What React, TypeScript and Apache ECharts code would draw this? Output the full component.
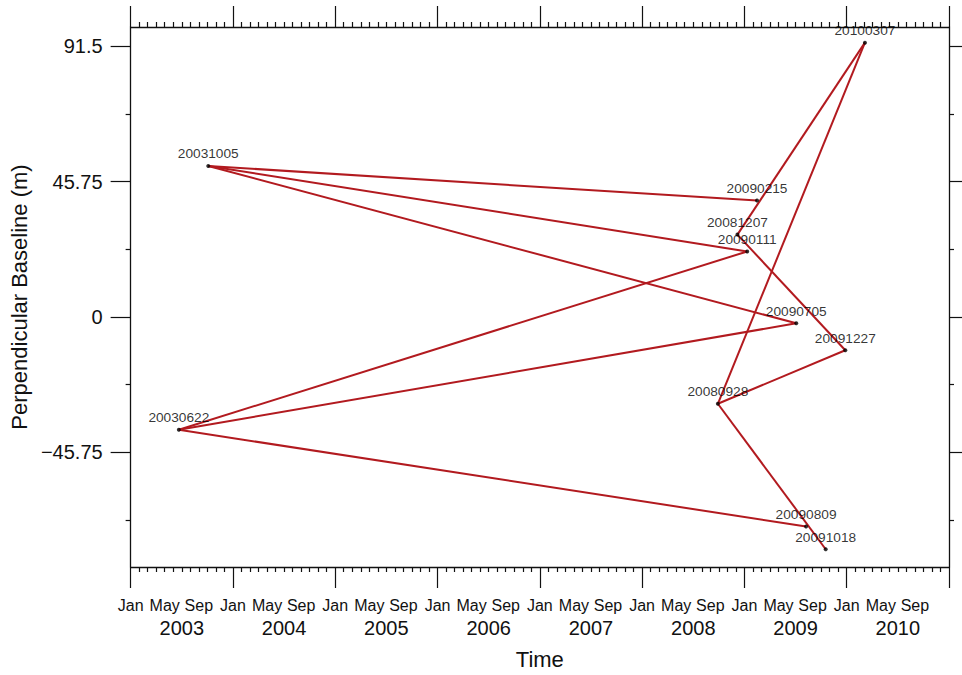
import React, { useEffect, useRef } from "react";
import * as echarts from "echarts";

// Acquisition dates (yyyymmdd) and perpendicular baselines (m)
const dates = ["20030622", "20031005", "20080928", "20081207", "20090111", "20090215", "20090705", "20090809", "20091018", "20091227", "20100307"];
const baselines = [-38.2, 51.0, -29.4, 27.8, 22.1, 39.3, -2.2, -70.9, -78.6, -11.3, 92.7];

// Interferometric pairs
const pairFrom = ["20030622", "20030622", "20030622", "20031005", "20031005", "20031005", "20081207", "20081207", "20080928", "20080928", "20080928"];
const pairTo = ["20090111", "20090705", "20090809", "20090215", "20090111", "20090705", "20100307", "20091227", "20100307", "20091227", "20091018"];

// Axis ticks
const yMajorTicks = [-45.75, 0, 45.75, 91.5];
const yMajorLabels = ["\u221245.75", "0", "45.75", "91.5"];
const yMinorTicks = [-68.625, -22.875, 22.875, 68.625];
const monthLabels = ["Jan", "May", "Sep"];
const years = ["2003", "2004", "2005", "2006", "2007", "2008", "2009", "2010"];

const FONT = "Liberation Sans, Arial, Helvetica, sans-serif";
const INK = "#111111";
const LINE = "#b21a1f";

function decimalYear(d: string): number {
  const y = +d.slice(0, 4);
  const m = +d.slice(4, 6);
  const day = +d.slice(6, 8);
  const start = Date.UTC(y, 0, 1);
  const end = Date.UTC(y + 1, 0, 1);
  const t = Date.UTC(y, m - 1, day);
  return y + (t - start) / (end - start);
}

export default function App() {
  const ref = useRef<HTMLDivElement>(null);
  useEffect(() => {
    if (!ref.current) return;
    const chart = echarts.init(ref.current, undefined, { renderer: "svg" });
    const pos: Record<string, [number, number]> = {};
    dates.forEach((d, i) => (pos[d] = [decimalYear(d), baselines[i]]));

    const axisLine = { show: true, onZero: false, lineStyle: { color: INK, width: 1.3 } };
    const noLine = { show: false, onZero: false };
    const tickStyle = { color: INK, width: 1.2 };

    const edgeSeries = pairFrom.map((f, i) => ({
      type: "line",
      xAxisIndex: 0,
      yAxisIndex: 0,
      data: [pos[f], pos[pairTo[i]]],
      symbol: "none",
      lineStyle: { color: LINE, width: 2 },
      silent: true,
      z: 2,
    }));

    chart.setOption({
      animation: false,
      textStyle: { fontFamily: FONT },
      grid: { left: 128, right: 13, top: 27, bottom: 102 },
      xAxis: [
        {
          type: "value",
          position: "bottom",
          min: 2003,
          max: 2011,
          interval: 1,
          axisLine,
          axisTick: { show: true, length: 21, lineStyle: tickStyle },
          minorTick: { show: true, splitNumber: 12, length: 5, lineStyle: tickStyle },
          axisLabel: { show: false },
          splitLine: { show: false },
          minorSplitLine: { show: false },
        },
        {
          type: "value",
          position: "bottom",
          min: 0,
          max: 96,
          interval: 4,
          axisLine: noLine,
          axisTick: { show: false },
          splitLine: { show: false },
          axisLabel: {
            show: true,
            margin: 30,
            fontSize: 16,
            color: INK,
            fontFamily: FONT,
            showMaxLabel: false,
            formatter: (v: number) => monthLabels[Math.round(v / 4) % 3],
          },
        },
        {
          type: "category",
          position: "bottom",
          data: years,
          boundaryGap: true,
          axisLine: noLine,
          axisTick: { show: false },
          splitLine: { show: false },
          axisLabel: { show: true, margin: 51, fontSize: 20, color: INK, fontFamily: FONT },
          name: "Time",
          nameLocation: "middle",
          nameGap: 81,
          nameTextStyle: { fontSize: 22, color: INK, fontFamily: FONT },
        },
        {
          type: "value",
          position: "top",
          min: 2003,
          max: 2011,
          interval: 1,
          axisLine,
          axisTick: { show: true, length: 21, lineStyle: tickStyle },
          minorTick: { show: true, splitNumber: 12, length: 5, lineStyle: tickStyle },
          axisLabel: { show: false },
          splitLine: { show: false },
          minorSplitLine: { show: false },
        },
      ],
      yAxis: [
        {
          type: "value",
          position: "left",
          min: -84.6,
          max: 98,
          axisLine,
          axisTick: { show: true, length: 20, lineStyle: tickStyle, customValues: yMajorTicks },
          axisLabel: {
            show: true,
            margin: 28,
            fontSize: 20,
            color: INK,
            fontFamily: FONT,
            customValues: yMajorTicks,
            formatter: (v: number) => {
              const i = yMajorTicks.findIndex((t) => Math.abs(t - v) < 1e-6);
              return i >= 0 ? yMajorLabels[i] : "";
            },
          },
          splitLine: { show: false },
          name: "Perpendicular Baseline (m)",
          nameLocation: "middle",
          nameGap: 85,
          nameTextStyle: { fontSize: 22, color: INK, fontFamily: FONT },
        },
        {
          type: "value",
          position: "left",
          min: -84.6,
          max: 98,
          axisLine: noLine,
          axisTick: { show: true, length: 5, lineStyle: tickStyle, customValues: yMinorTicks },
          axisLabel: { show: false },
          splitLine: { show: false },
        },
        {
          type: "value",
          position: "right",
          min: -84.6,
          max: 98,
          axisLine,
          axisTick: { show: true, length: 20, lineStyle: tickStyle, customValues: yMajorTicks },
          axisLabel: { show: false },
          splitLine: { show: false },
        },
        {
          type: "value",
          position: "right",
          min: -84.6,
          max: 98,
          axisLine: noLine,
          axisTick: { show: true, length: 5, lineStyle: tickStyle, customValues: yMinorTicks },
          axisLabel: { show: false },
          splitLine: { show: false },
        },
      ],
      series: [
        ...edgeSeries,
        {
          type: "scatter",
          xAxisIndex: 0,
          yAxisIndex: 0,
          data: dates.map((d) => ({ value: pos[d], name: d })),
          symbol: "circle",
          symbolSize: 4,
          itemStyle: { color: "#000" },
          z: 3,
          label: {
            show: true,
            position: "top",
            distance: 3,
            fontSize: 13.7,
            color: "#000",
            fontFamily: FONT,
            formatter: (p: any) => p.name,
          },
        },
      ],
    });
    return () => chart.dispose();
  }, []);
  return <div ref={ref} style={{ position: "absolute", left: 0, top: 0, width: 962, height: 675 }} />;
}
